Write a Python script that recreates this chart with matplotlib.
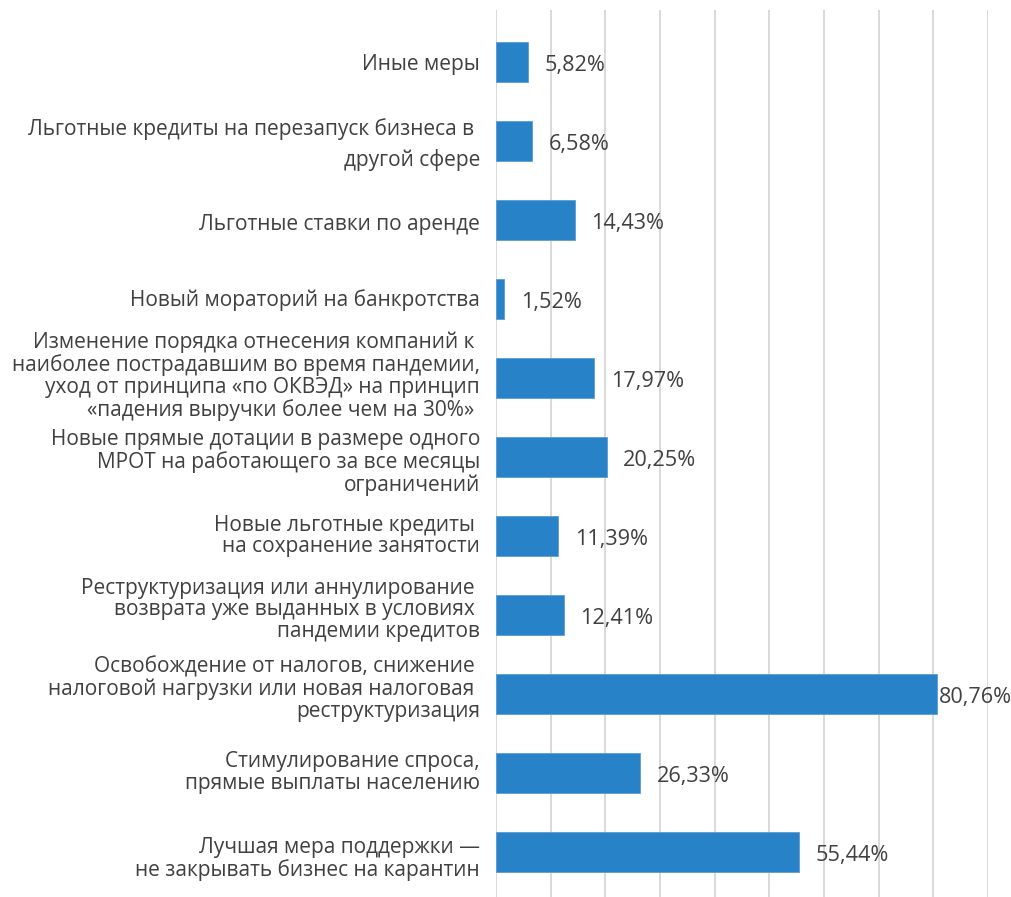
import matplotlib
matplotlib.use("Agg")
import matplotlib.pyplot as plt
import matplotlib.transforms as mtransforms
import numpy as np

plt.rcParams['font.family'] = ['Open Sans', 'DejaVu Sans']

categories = [
    "Иные меры",
    "Льготные кредиты на перезапуск бизнеса в \nдругой сфере",
    "Льготные ставки по аренде",
    "Новый мораторий на банкротства",
    "Изменение порядка отнесения компаний к \nнаиболее пострадавшим во время пандемии,\nуход от принципа «по ОКВЭД» на принцип\n«падения выручки более чем на 30%» ",
    "Новые прямые дотации в размере одного\nМРОТ на работающего за все месяцы\nограничений",
    "Новые льготные кредиты \nна сохранение занятости",
    "Реструктуризация или аннулирование \nвозврата уже выданных в условиях \nпандемии кредитов",
    "Освобождение от налогов, снижение \nналоговой нагрузки или новая налоговая \nреструктуризация",
    "Стимулирование спроса,\nпрямые выплаты населению",
    "Лучшая мера поддержки —\nне закрывать бизнес на карантин",
]
values = [5.82, 6.58, 14.43, 1.52, 17.97, 20.25, 11.39, 12.41, 80.76, 26.33, 55.44]
value_labels = ["5,82%", "6,58%", "14,43%", "1,52%", "17,97%", "20,25%",
                "11,39%", "12,41%", "80,76%", "26,33%", "55,44%"]

# vertical nudge of each category label, in pixels (positive = down)
label_nudge_px = [3, 3.5, 4.5, 1, -2, 5.5, 0, -5, -5, -0.5, 7]

W, H = 1012, 897
DPI = 100
fig = plt.figure(figsize=(W / DPI, H / DPI), dpi=DPI)

n = len(categories)
pad_top = 0.658
span = (n - 1) + 2 * pad_top
unit_px = 79.0
ax_h = span * unit_px
ax_top = 10
ax_left, ax_right = 496, 988
ax = fig.add_axes([ax_left / W, (H - ax_top - ax_h) / H,
                   (ax_right - ax_left) / W, ax_h / H])

y = np.arange(n)
bar_color = '#2882C8'
ax.barh(y, values, height=0.5, color=bar_color, edgecolor='#5B9BD5',
        linewidth=0.6, zorder=3)

ax.set_xlim(0, 90)
ax.set_ylim(n - 1 + pad_top, -pad_top)
ax.set_xticks(np.arange(0, 91, 10))
ax.xaxis.grid(True, color='#D9D9D9', linewidth=1.4, zorder=0)
ax.set_axisbelow(True)
ax.tick_params(axis='x', length=0, labelbottom=False)
ax.set_yticks(y)
ax.set_yticklabels([])
ax.tick_params(axis='y', length=0)

for s in ax.spines.values():
    s.set_visible(False)

text_color = '#404040'

# category labels to the left of the axis
base = ax.get_yaxis_transform()
for i, (yi, lab) in enumerate(zip(y, categories)):
    shift = mtransforms.ScaledTranslation(-16 / DPI, -label_nudge_px[i] / DPI,
                                          fig.dpi_scale_trans)
    ax.text(0, yi, lab, transform=base + shift, ha='right', va='center',
            multialignment='right', fontsize=15, color=text_color,
            linespacing=1.5 if i == 1 else 1.06)

# value labels just past the end of each bar
for yi, v, lab in zip(y, values, value_labels):
    offset = 1 if v > 75 else 12
    ax.annotate(lab, xy=(v, yi), xytext=(offset, -2.5), textcoords='offset points',
                ha='left', va='center', fontsize=15.6, color=text_color,
                zorder=4)

fig.savefig('out.png', dpi=DPI, facecolor='white')
